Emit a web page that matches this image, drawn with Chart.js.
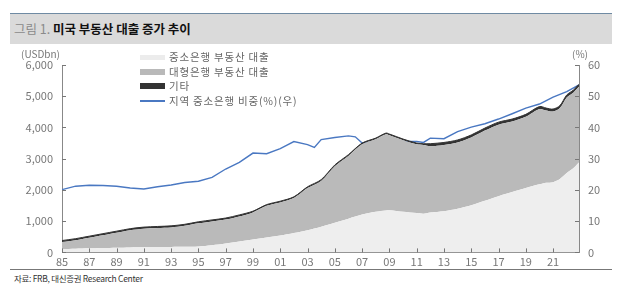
<!DOCTYPE html>
<html>
<head>
<meta charset="utf-8">
<script src="https://cdn.jsdelivr.net/npm/chart.js@4"></script>
<style>
	body { margin:0; width:620px; height:290px; background:#fff; position:relative; overflow:hidden;
		font-family:"Noto Sans CJK KR","Noto Sans",sans-serif; }
	.titlebar { position:absolute; left:10px; top:13px; width:602px; height:31px; background:#dadada;
		border-top:1px solid #6f8aa3; box-sizing:border-box; }
	.titlebar span { position:absolute; top:5px; font-size:12.5px; }
	.t1 { left:4px; color:#8a8a8a; }
	.t2 { left:43px; color:#111; font-weight:bold; }
	#wrap { position:absolute; left:0; top:44px; width:620px; height:224px; }
	.unit { position:absolute; font-size:10px; color:#777; }
	.legend { position:absolute; left:140px; top:50px; font-size:10.5px; color:#666; letter-spacing:0.8px; }
	.legend div { height:14.6px; position:relative; padding-left:29px; line-height:14px; }
	.legend i { position:absolute; left:0; width:25px; }
	.src { position:absolute; left:14px; top:272px; font-size:8.5px; color:#333; letter-spacing:-0.3px; }
	.rule { position:absolute; left:10px; top:269px; width:602px; height:1px; background:#777; }
</style>
</head>
<body>
<div class="titlebar"><span class="t1">그림 1.</span><span class="t2">미국 부동산 대출 증가 추이</span></div>
<div id="wrap"><canvas id="c"></canvas></div>
<div class="unit" style="left:21px;top:46px;">(USDbn)</div>
<div class="unit" style="left:572px;top:46px;">(%)</div>
<div class="legend">
	<div><i style="top:5px;height:5px;background:#ececec"></i>중소은행 부동산 대출</div>
	<div><i style="top:4px;height:6px;background:#b9b9b9"></i>대형은행 부동산 대출</div>
	<div><i style="top:4px;height:6px;background:#333"></i>기타</div>
	<div><i style="top:6px;height:2px;background:#4a78c2"></i>지역 중소은행 비중(%)(우)</div>
</div>
<div class="rule"></div>
<div class="src">자료: FRB, 대신증권 Research Center</div>

<script>
// 대출 잔액 (USDbn), 날짜는 연도 (소수점 = 분기)
const areaDates = [1985,1986,1987,1988,1989,1990,1991,1992,1993,1994,1995,1996,1997,1998,1999,2000,
	2001,2002,2003,2004,2005,2006,2007,2008,2008.75,2009,2010,2011,2011.5,2012,2013,2014,2015,2016,
	2017,2018,2019,2020,2020.5,2021,2021.5,2022,2022.5,2022.9];
const smallBank = [110,120,130,140,150,160,165,170,175,180,190,230,285,350,415,480,
	540,620,710,820,950,1080,1210,1300,1340,1350,1300,1260,1240,1280,1320,1400,1510,1650,
	1800,1930,2060,2180,2230,2250,2350,2540,2700,2880];
const largeBank = [220,270,340,410,480,550,595,610,625,670,740,760,765,800,865,1010,
	1060,1120,1350,1470,1810,2010,2250,2320,2440,2400,2290,2200,2200,2120,2120,2120,2170,2250,
	2290,2260,2280,2410,2310,2260,2270,2420,2420,2420];
const otherLoans = [50,50,50,50,50,50,50,50,50,50,50,50,50,50,40,40,
	40,40,40,40,40,40,40,40,40,40,40,40,40,80,80,80,80,80,
	80,80,80,80,80,80,80,80,80,80];

// 지역 중소은행 비중 (%)
const shareDates = [1985,1986,1987,1988,1989,1990,1991,1992,1993,1994,1995,1996,1997,1998,1999,2000,
	2001,2002,2003,2003.5,2004,2005,2006,2006.5,2007,2008,2008.5,2009,2010,2011,2011.5,2012,2013,
	2014,2015,2016,2017,2018,2019,2020,2021,2022,2022.9];
const shareValues = [20.1,21.2,21.5,21.4,21.2,20.6,20.3,21.0,21.6,22.4,22.8,24.0,26.7,28.8,31.8,31.6,
	33.2,35.5,34.5,33.6,36.1,36.8,37.3,37.0,35.0,35.5,36.1,35.6,35.5,35.5,35.2,36.6,36.4,
	38.7,40.1,41.2,42.7,44.4,46.2,47.5,49.7,51.5,53.6];

const xTickYears = [1985,1987,1989,1991,1993,1995,1997,1999,2001,2003,2005,2007,2009,2011,2013,2015,2017,2019,2021];

const pts = (xs, ys) => xs.map((x,i) => ({x:x, y:ys[i]}));

/** 안쪽으로 향하는 짧은 눈금 */
const innerTicks = {
	id:'innerTicks',
	afterDraw(chart){
		const c = chart.ctx, a = chart.chartArea;
		c.save();
		c.strokeStyle = '#777';
		c.lineWidth = 1;
		c.beginPath();
		chart.scales.x.ticks.forEach(t => {
			const px = Math.round(chart.scales.x.getPixelForValue(t.value)) + 0.5;
			c.moveTo(px, a.bottom); c.lineTo(px, a.bottom - 4);
		});
		chart.scales.y.ticks.forEach(t => {
			const py = Math.round(chart.scales.y.getPixelForValue(t.value)) + 0.5;
			c.moveTo(a.left, py); c.lineTo(a.left + 4, py);
		});
		chart.scales.y2.ticks.forEach(t => {
			const py = Math.round(chart.scales.y2.getPixelForValue(t.value)) + 0.5;
			c.moveTo(a.right, py); c.lineTo(a.right - 4, py);
		});
		c.stroke();
		c.restore();
	}
};

const tickFont = { family:'"Noto Sans CJK KR","Noto Sans",sans-serif', size:11 };

new Chart(document.getElementById('c'), {
	type:'line',
	data:{
		datasets:[
			{ label:'중소은행 부동산 대출', data:pts(areaDates, smallBank), yAxisID:'y',
				backgroundColor:'#eeeeee', borderWidth:0, fill:'origin', pointRadius:0, tension:0.3 },
			{ label:'대형은행 부동산 대출', data:pts(areaDates, largeBank), yAxisID:'y',
				backgroundColor:'#bababa', borderWidth:0, fill:'-1', pointRadius:0, tension:0.3 },
			{ label:'기타', data:pts(areaDates, otherLoans), yAxisID:'y',
				backgroundColor:'#333333', borderColor:'#333333', borderWidth:1, fill:'-1', pointRadius:0, tension:0.3 },
			{ label:'지역 중소은행 비중(%)(우)', data:pts(shareDates, shareValues), yAxisID:'y2',
				borderColor:'#4a78c2', borderWidth:1.4, fill:false, pointRadius:0, tension:0 }
		]
	},
	options:{
		responsive:true, maintainAspectRatio:false, animation:false,
		layout:{ padding:{ top:21, left:0, right:0, bottom:0 } },
		plugins:{ legend:{ display:false }, tooltip:{ enabled:false } },
		scales:{
			x:{ type:'linear', min:1985, max:2022.9,
				afterBuildTicks: s => { s.ticks = xTickYears.map(v => ({ value:v })); },
				afterFit: s => { s.height = 15; },
				grid:{ display:false, drawTicks:false },
				border:{ display:true, color:'#888' },
				ticks:{ color:'#777', font:tickFont, padding:3, maxRotation:0, autoSkip:false,
					callback: v => String(v).slice(2) } },
			y:{ stacked:true, min:0, max:6000,
				afterFit: s => { s.width = 62; },
				grid:{ display:false, drawTicks:false },
				border:{ display:true, color:'#888' },
				ticks:{ stepSize:1000, color:'#777', font:tickFont, padding:9,
					callback: v => v.toLocaleString('en-US') } },
			y2:{ position:'right', stacked:false, min:0, max:60,
				afterFit: s => { s.width = 41; },
				grid:{ display:false, drawTicks:false },
				border:{ display:true, color:'#888' },
				ticks:{ stepSize:10, color:'#777', font:tickFont, padding:9 } }
		}
	},
	plugins:[innerTicks]
});
</script>
</body>
</html>
